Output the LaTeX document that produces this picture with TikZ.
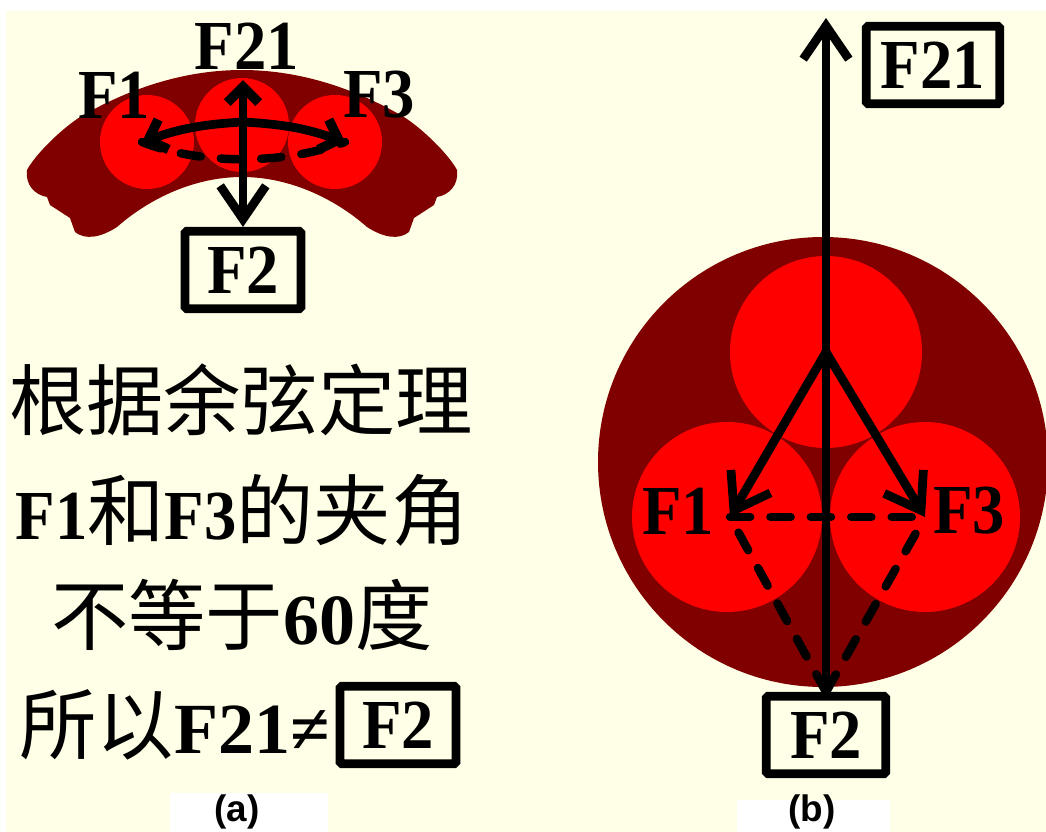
\documentclass[tikz,border=0pt]{standalone}
\usepackage{fontspec}
\setmainfont{Liberation Serif}
\setsansfont{Liberation Sans}
\newfontfamily\cjk{Noto Sans CJK SC}
\newfontfamily\lblfont{Liberation Serif}[FakeStretch=0.92]
\usetikzlibrary{arrows.meta}
\definecolor{creambg}{RGB}{255,255,232}
\definecolor{darkred}{RGB}{128,0,0}
\tikzset{
    force/.style={line width=5pt,line cap=round,-{Straight Barb[length=19pt,width=26pt,line width=5pt]}},
    smallforce/.style={line width=5pt,line cap=round,-{Straight Barb[length=9pt,width=18pt,line width=5.5pt]}},
    forcedash/.style={line width=4.8pt,line cap=round,dash pattern=on 11.5pt off 11.5pt},
    core/.style={fill=red},
    lbl/.style={inner sep=0pt,font=\fontsize{40}{40}\lblfont\bfseries},
    cjkline/.style={inner sep=0pt,font=\fontsize{44}{44}\selectfont},
    boxed/.style={lbl,draw,line width=5pt,rounded corners=1pt,minimum width=66pt,minimum height=44pt},
    caption/.style={inner sep=0pt,font=\fontsize{21}{21}\selectfont\sffamily\bfseries}
}
\newcommand{\lb}[1]{{\fontsize{40}{40}\lblfont\bfseries #1}}
\newcommand{\lw}[1]{{\fontsize{41}{41}\rmfamily\bfseries #1}}
\begin{document}
\begin{tikzpicture}[x=0.02cm,y=-0.02cm]
    \useasboundingbox (0,0) rectangle (1046,832);
    \fill[white] (0,0) rectangle (1046,832);
    \fill[creambg] (6,11) rectangle (1046,832);
    \fill[white] (170,793) rectangle (328,832);
    \fill[white] (737,800) rectangle (890,832);

    % cable (a)
    \fill[darkred] (242,70) .. controls (190,70) and (135,85) .. (80,117)
        .. controls (60,130) and (35,155) .. (27,170)
        .. controls (25,185) and (35,195) .. (47,197)
        -- (50,205) -- (70,218) -- (75,232)
        .. controls (85,240) and (100,238) .. (117,227)
        .. controls (150,198) and (195,177) .. (242,177)
        .. controls (289,177) and (334,198) .. (367,227)
        .. controls (384,238) and (399,240) .. (409,232)
        -- (414,218) -- (434,205) -- (437,197)
        .. controls (449,195) and (459,185) .. (457,170)
        .. controls (449,155) and (424,130) .. (404,117)
        .. controls (349,85) and (294,70) .. (242,70) -- cycle;
    \fill[core] (147,142) circle (47);
    \fill[core] (242,125) circle (47);
    \fill[core] (335,142) circle (47);

    \node[lbl] (Fa21) at (247,46) {F21};
    \node[lbl] (Fa1) at (114,95) {F1};
    \node[lbl] (Fa3) at (379,95) {F3};
    \node[boxed] (Fa2) at (243,270) {F2};
    \coordinate (Oa) at (243,122);
    \coordinate (Ta) at (243,80);
    \coordinate (La) at (142,142);
    \coordinate (Ra) at (345,142);

    \draw[smallforce] (Oa) -- (Ta);
    \draw[force] (Oa) -- (Fa2.north);
    \draw[smallforce] (Oa) to[bend right=8] (La);
    \draw[smallforce] (Oa) to[bend left=8] (Ra);
    \draw[forcedash] (La) .. controls (200,165) and (285,165) .. (Ra);

    % text (a)
    \node[cjkline] (line1) at (241,400) {\cjk 根据余弦定理};
    \node[cjkline] (line2) at (242,510) {\lb{F1}\cjk 和\lb{F3}\cjk 的夹角};
    \node[cjkline] (line3) at (242,615) {\cjk 不等于\lw{60}\cjk 度};
    \node[cjkline,anchor=east] (line4) at (330,725) {\cjk 所以\lw{F21≠}};
    \node[boxed] (Fb) at (398,725) {F2};
    \node[caption] (capa) at (237,812) {(a)};

    % cable (b)
    \fill[darkred] (823,462) circle (225);
    \fill[core] (826,352) circle (96);
    \fill[core] (727,517) circle (95);
    \fill[core] (925,517) circle (95);

    \node[lbl] (F1) at (678,511) {F1};
    \node[lbl] (F3) at (969,511) {F3};
    \node[boxed,minimum width=76pt] (F21) at (933,65) {F21};
    \node[boxed,minimum width=68pt] (F2) at (826,735) {F2};
    \coordinate (O) at (826,352);
    \coordinate (T) at (826,18);
    \coordinate (L) at (730,517);
    \coordinate (R) at (925,517);

    \draw[force] (F2.north) -- (T);
    \draw[force] (O) -- (L);
    \draw[force] (O) -- (R);
    \draw[forcedash] (L) -- (R);
    \draw[forcedash] (F2.north) -- (L);
    \draw[forcedash] (F2.north) -- (R);
    \node[caption] (capb) at (812,812) {(b)};
\end{tikzpicture}
\end{document}
